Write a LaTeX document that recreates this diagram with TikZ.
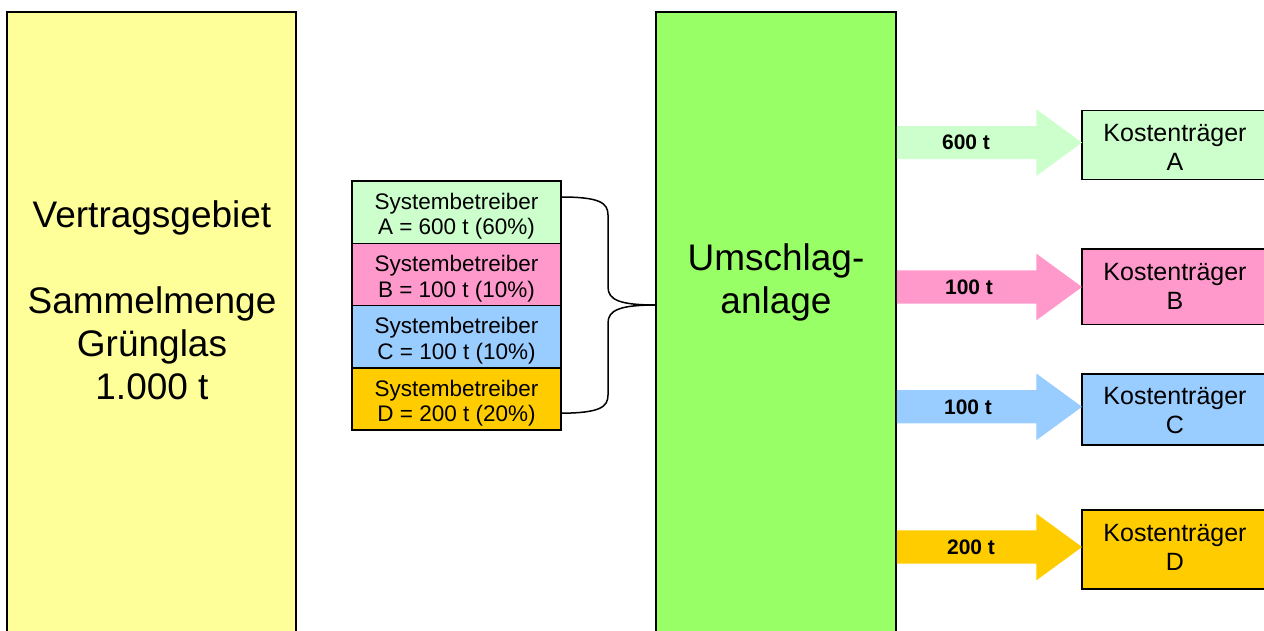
\documentclass[tikz,border=0pt]{standalone}
\usepackage{fontspec}
\setmainfont{Liberation Sans}
\usetikzlibrary{calc}
\definecolor{cYel}{HTML}{FFFF99}
\definecolor{cGrn}{HTML}{99FF66}
\definecolor{cA}{HTML}{CCFFCC}
\definecolor{cB}{HTML}{FF99CC}
\definecolor{cC}{HTML}{99CCFF}
\definecolor{cD}{HTML}{FFCC00}
\newcommand\blockarrow[3]{%
  \path (#1.east |- #2) ++(0.75,0) coordinate (#2s);
  \fill[#3] ($(#2s)+(0,-16.6)$) -- ($(#2)+(-45.6,-16.6)$) -- ($(#2)+(-45.6,-33.3)$)
    -- (#2) -- ($(#2)+(-45.6,33.3)$) -- ($(#2)+(-45.6,16.6)$) -- ($(#2s)+(0,16.6)$) -- cycle;}
\begin{document}
\begin{tikzpicture}[x=1pt,y=-1pt,
  box/.style={draw=black, line width=1.5pt, outer sep=0pt, inner sep=0pt, anchor=north west},
  bigtext/.style={align=center, inner sep=0pt, font=\fontsize{37}{43}\selectfont},
  sbox/.style={box, minimum width=209pt, minimum height=62.3pt},
  stext/.style={align=center, inner sep=0pt, font=\fontsize{22.5}{25.5}\selectfont},
  kbox/.style={box, minimum width=186pt},
  ktext/.style={align=center, inner sep=0pt, font=\fontsize{25}{29}\selectfont},
  alabel/.style={inner sep=0pt, font=\fontsize{21}{24}\selectfont\bfseries},
  brace/.style={draw=black, line width=1.5pt}]
\useasboundingbox (0,0) rectangle (1264,630);
\clip (0,0) rectangle (1264,630);
\fill[white] (0,0) rectangle (1264,630);
% big boxes
\node[box, fill=cYel, minimum width=289pt, minimum height=640pt] (vg) at (7,12) {};
\node[bigtext] (vgt) at (152,300) {Vertragsgebiet\\[43pt]Sammelmenge\\Grünglas\\1.000 t};
\node[box, fill=cGrn, minimum width=240pt, minimum height=640pt] (ua) at (656,12) {};
\node[bigtext] (uat) at (776,282) {Umschlag-\\anlage};
% Systembetreiber
\node[sbox, fill=cA] (sA) at (352,181) {};
\node[sbox, fill=cB] (sB) at (352,243.3) {};
\node[sbox, fill=cC] (sC) at (352,305.6) {};
\node[sbox, fill=cD] (sD) at (352,367.9) {};
\node[stext] (sAt) at ($(sA.center)+(0,4)$) {Systembetreiber\\A = 600 t (60\%)};
\node[stext] (sBt) at ($(sB.center)+(0,4)$) {Systembetreiber\\B = 100 t (10\%)};
\node[stext] (sCt) at ($(sC.center)+(0,4)$) {Systembetreiber\\C = 100 t (10\%)};
\node[stext] (sDt) at ($(sD.center)+(0,4)$) {Systembetreiber\\D = 200 t (20\%)};
% brace
\coordinate (bs) at ($(sA.north east)+(0,16)$);
\coordinate (be) at ($(sD.south east)+(0,-17)$);
\coordinate (bt) at (ua.west |- 0,305);
\draw[brace] (bs) .. controls (600,197) and (608,203) .. (608,215) -- (608,287)
  .. controls (608,300) and (620,305) .. (bt);
\draw[brace] (be) .. controls (600,413) and (608,407) .. (608,395) -- (608,323)
  .. controls (608,310) and (620,305) .. (bt);
% Kostentraeger
\node[kbox, fill=cA, minimum height=69pt] (kA) at (1082,110.5) {};
\node[kbox, fill=cB, minimum height=75.6pt] (kB) at (1082,249) {};
\node[kbox, fill=cC, minimum height=71pt] (kC) at (1082,374) {};
\node[kbox, fill=cD, minimum height=79pt] (kD) at (1082,510) {};
\node[ktext] (kAt) at ($(kA.center)+(0,2)$) {Kostenträger\\A};
\node[ktext] (kBt) at ($(kB.center)+(0,0)$) {Kostenträger\\B};
\node[ktext] (kCt) at ($(kC.center)+(0,1)$) {Kostenträger\\C};
\node[ktext] (kDt) at ($(kD.center)+(0,-2)$) {Kostenträger\\D};
% arrows
\coordinate (tA) at (kA.west |- 0,142.6);
\coordinate (tB) at (kB.west |- 0,287);
\coordinate (tC) at (kC.west |- 0,406.8);
\coordinate (tD) at (kD.west |- 0,547);
\blockarrow{ua}{tA}{cA}
\blockarrow{ua}{tB}{cB}
\blockarrow{ua}{tC}{cC}
\blockarrow{ua}{tD}{cD}
\node[alabel] (lA) at (966,142.6) {600 t};
\node[alabel] (lB) at (969,287) {100 t};
\node[alabel] (lC) at (968,406.8) {100 t};
\node[alabel] (lD) at (971,547) {200 t};
\end{tikzpicture}
\end{document}
